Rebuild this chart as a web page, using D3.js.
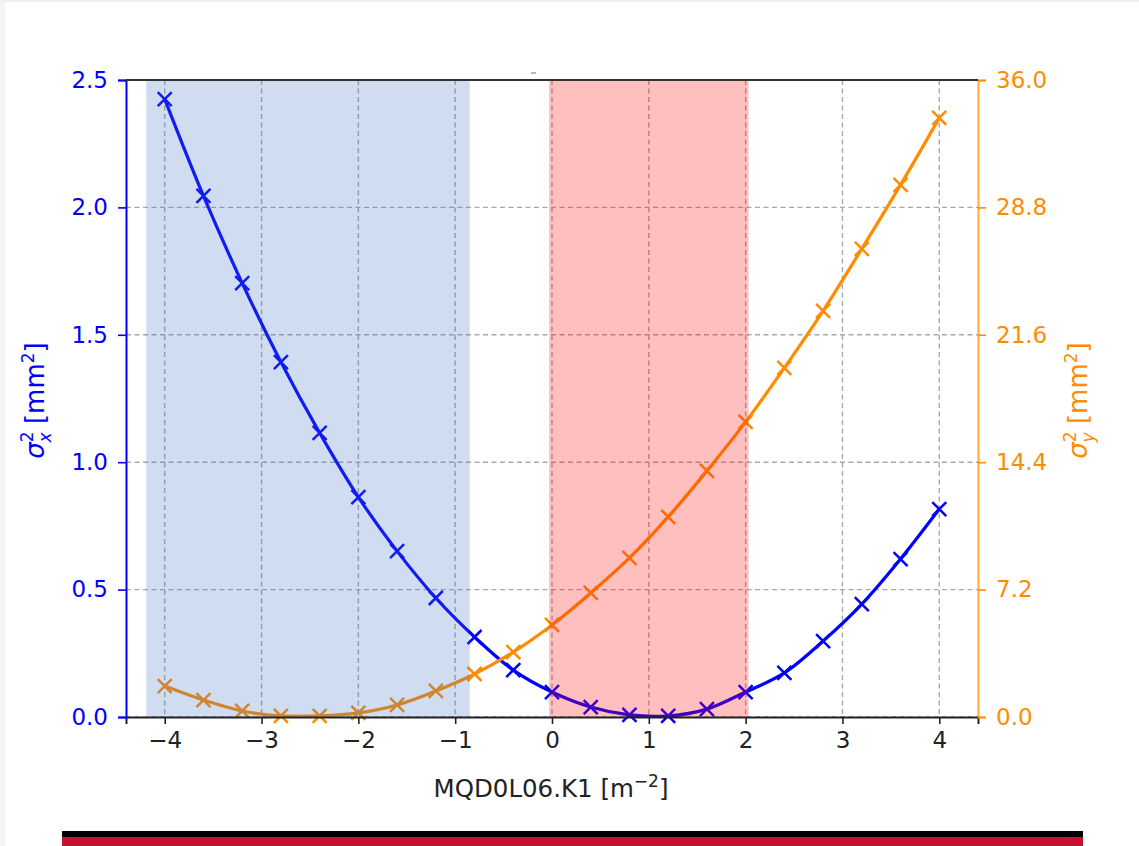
<!DOCTYPE html>
<html>
<head>
<meta charset="utf-8">
<script src="https://cdn.jsdelivr.net/npm/d3@7"></script>
<style>
  body { margin: 0; background: #ffffff; }
  text { font-family: "DejaVu Sans", sans-serif; }
</style>
</head>
<body>
<div id="chart"></div>
<script>
////////////////////////////////////////////////////////////////////////
// Data

// quadrupole strength scan points
let k1Values = [-4.0, -3.6, -3.2, -2.8, -2.4, -2.0, -1.6, -1.2, -0.8, -0.4,
  0.0, 0.4, 0.8, 1.2, 1.6, 2.0, 2.4, 2.8, 3.2, 3.6, 4.0];

// horizontal beam size squared (left axis)
let sigmaX2 = [2.425, 2.045, 1.703, 1.393, 1.115, 0.863, 0.651, 0.467, 0.314, 0.184,
  0.098, 0.039, 0.008, 0.004, 0.031, 0.098, 0.173, 0.298, 0.443, 0.620, 0.816];

// vertical beam size squared (right axis)
let sigmaY2 = [1.75, 0.96, 0.34, 0.06, 0.06, 0.23, 0.68, 1.47, 2.43, 3.67,
  5.20, 7.01, 8.99, 11.31, 13.91, 16.68, 19.73, 22.95, 26.46, 30.07, 33.86];

// shaded k1 ranges
let spanRanges = [[-4.19, -0.85], [-0.03, 2.03]];
let spanColors = ["#4472c4", "#ff0000"];

// tick values and their labels
let xTicks = [-4, -3, -2, -1, 0, 1, 2, 3, 4];
let xTickLabels = ["\u22124", "\u22123", "\u22122", "\u22121", "0", "1", "2", "3", "4"];
let leftTicks = [0, 0.5, 1.0, 1.5, 2.0, 2.5];
let leftTickLabels = ["0.0", "0.5", "1.0", "1.5", "2.0", "2.5"];
let rightTicks = [0, 7.2, 14.4, 21.6, 28.8, 36.0];
let rightTickLabels = ["0.0", "7.2", "14.4", "21.6", "28.8", "36.0"];

////////////////////////////////////////////////////////////////////////
// Layout

let width = 1139;
let height = 846;
let plotLeft = 126, plotRight = 978, plotTop = 80, plotBottom = 717;
let tickFont = "23px";

const blue = "#0000ff";
const orange = "#ff8c00";

let svg = d3.select("#chart")
  .append("svg")
  .attr("width", width).attr("height", height);

// faint page edges
svg.append("rect").attr("x", 0).attr("y", 0).attr("width", 5).attr("height", height).attr("fill", "#f3f4f7");
svg.append("rect").attr("x", 0).attr("y", 0).attr("width", width).attr("height", 2).attr("fill", "#eeeff2");

let xScale = d3.scaleLinear().domain([-4.4, 4.4]).range([plotLeft, plotRight]);
let yLeft = d3.scaleLinear().domain([0, 2.5]).range([plotBottom, plotTop]);
let yRight = d3.scaleLinear().domain([0, 36]).range([plotBottom, plotTop]);

////////////////////////////////////////////////////////////////////////
// Grid

let grid = svg.append("g").attr("class", "grid")
  .style("stroke", "#a8a8a8").style("stroke-width", 1.4).style("stroke-dasharray", "5,3.5");

grid.selectAll(".vgrid")
  .data(xTicks)
  .enter().append("line")
  .attr("x1", d => xScale(d)).attr("x2", d => xScale(d))
  .attr("y1", plotTop).attr("y2", plotBottom);

grid.selectAll(".hgrid")
  .data(leftTicks)
  .enter().append("line")
  .attr("x1", plotLeft).attr("x2", plotRight)
  .attr("y1", d => yLeft(d)).attr("y2", d => yLeft(d));

////////////////////////////////////////////////////////////////////////
// Curves and markers

let xPoints = k1Values.map((k, i) => ({ k: k, sx: sigmaX2[i], sy: sigmaY2[i] }));

function drawSeries(key, scale, color) {
  let line = d3.line()
    .x(d => xScale(d.k))
    .y(d => scale(d[key]))
    .curve(d3.curveCatmullRom);

  svg.append("path")
    .datum(xPoints)
    .attr("d", line)
    .style("fill", "none")
    .style("stroke", color)
    .style("stroke-width", 3.2);

  let s = 7;
  svg.append("g")
    .selectAll("path")
    .data(xPoints)
    .enter().append("path")
    .attr("d", d => {
      let cx = xScale(d.k), cy = scale(d[key]);
      return "M" + (cx - s) + "," + (cy - s) + "L" + (cx + s) + "," + (cy + s) +
        "M" + (cx - s) + "," + (cy + s) + "L" + (cx + s) + "," + (cy - s);
    })
    .style("stroke", color)
    .style("stroke-width", 2.5)
    .style("fill", "none");
}

drawSeries("sx", yLeft, blue);
drawSeries("sy", yRight, orange);

// shaded spans sit on top of the curves
svg.selectAll(".span")
  .data(spanRanges)
  .enter().append("rect")
  .attr("class", "span")
  .attr("x", d => xScale(d[0]))
  .attr("width", d => xScale(d[1]) - xScale(d[0]))
  .attr("y", plotTop)
  .attr("height", plotBottom - plotTop)
  .attr("fill", (d, i) => spanColors[i])
  .attr("fill-opacity", 0.25);

////////////////////////////////////////////////////////////////////////
// Axes

let xAxis = d3.axisBottom(xScale)
  .tickValues(xTicks)
  .tickFormat((d, i) => xTickLabels[i])
  .tickSize(7).tickPadding(8);

let gx = svg.append("g")
  .attr("transform", "translate(0," + plotBottom + ")")
  .call(xAxis);
gx.select(".domain").attr("stroke", "#222").attr("stroke-width", 2);
gx.selectAll(".tick line").attr("stroke", "#222").attr("stroke-width", 1.6);
gx.selectAll(".tick text").attr("fill", "#222").style("font-size", tickFont);

let leftAxis = d3.axisLeft(yLeft)
  .tickValues(leftTicks)
  .tickFormat((d, i) => leftTickLabels[i])
  .tickSize(8).tickPadding(10);

let gl = svg.append("g")
  .attr("transform", "translate(" + plotLeft + ",0)")
  .call(leftAxis);
gl.select(".domain").attr("stroke", blue).attr("stroke-width", 2);
gl.selectAll(".tick line").attr("stroke", blue).attr("stroke-width", 1.6);
gl.selectAll(".tick text").attr("fill", blue).style("font-size", tickFont);

let rightAxis = d3.axisRight(yRight)
  .tickValues(rightTicks)
  .tickFormat((d, i) => rightTickLabels[i])
  .tickSize(8).tickPadding(10);

let gr = svg.append("g")
  .attr("transform", "translate(" + plotRight + ",0)")
  .call(rightAxis);
gr.select(".domain").attr("stroke", orange).attr("stroke-width", 2).attr("stroke-opacity", 0.75);
gr.selectAll(".tick line").attr("stroke", orange).attr("stroke-width", 1.6);
gr.selectAll(".tick text").attr("fill", orange).style("font-size", tickFont);

// top spine
svg.append("line")
  .attr("x1", plotLeft).attr("x2", plotRight)
  .attr("y1", plotTop).attr("y2", plotTop)
  .attr("stroke", "#333").attr("stroke-width", 2.2);

// small stray mark above the plot (empty title)
svg.append("line")
  .attr("x1", 531).attr("x2", 536).attr("y1", 73).attr("y2", 73)
  .attr("stroke", "#888").attr("stroke-width", 1.2);

////////////////////////////////////////////////////////////////////////
// Axis labels

let xLabel = svg.append("text")
  .attr("x", (plotLeft + plotRight) / 2 - 1)
  .attr("y", 797)
  .attr("text-anchor", "middle")
  .attr("fill", "#222")
  .style("font-size", "24.5px");
xLabel.append("tspan").text("MQD0L06.K1 [m");
xLabel.append("tspan").attr("dy", -10).style("font-size", "17px").text("\u22122");
xLabel.append("tspan").attr("dy", 10).text("]");

function sigmaLabel(x, sub, color) {
  let t = svg.append("text")
    .attr("transform", "translate(" + x + "," + ((plotTop + plotBottom) / 2 + 2) + ") rotate(-90)")
    .attr("text-anchor", "middle")
    .attr("fill", color)
    .style("font-size", "26px");
  t.append("tspan").style("font-style", "italic").text("\u03c3");
  t.append("tspan").attr("dy", -11).style("font-size", "17px").text("2");
  t.append("tspan").attr("dx", -11).attr("dy", 18).style("font-size", "17px").style("font-style", "italic").text(sub);
  t.append("tspan").attr("dy", -7).text(" [mm");
  t.append("tspan").attr("dy", -10).style("font-size", "17px").text("2");
  t.append("tspan").attr("dy", 10).text("]");
}

sigmaLabel(44, "x", blue);
sigmaLabel(1087, "y", orange);

////////////////////////////////////////////////////////////////////////
// Footer bar

svg.append("rect").attr("x", 62).attr("y", 831).attr("width", 1021).attr("height", 6).attr("fill", "#000");
svg.append("rect").attr("x", 62).attr("y", 837).attr("width", 1021).attr("height", 9).attr("fill", "#c41230");
</script>
</body>
</html>
